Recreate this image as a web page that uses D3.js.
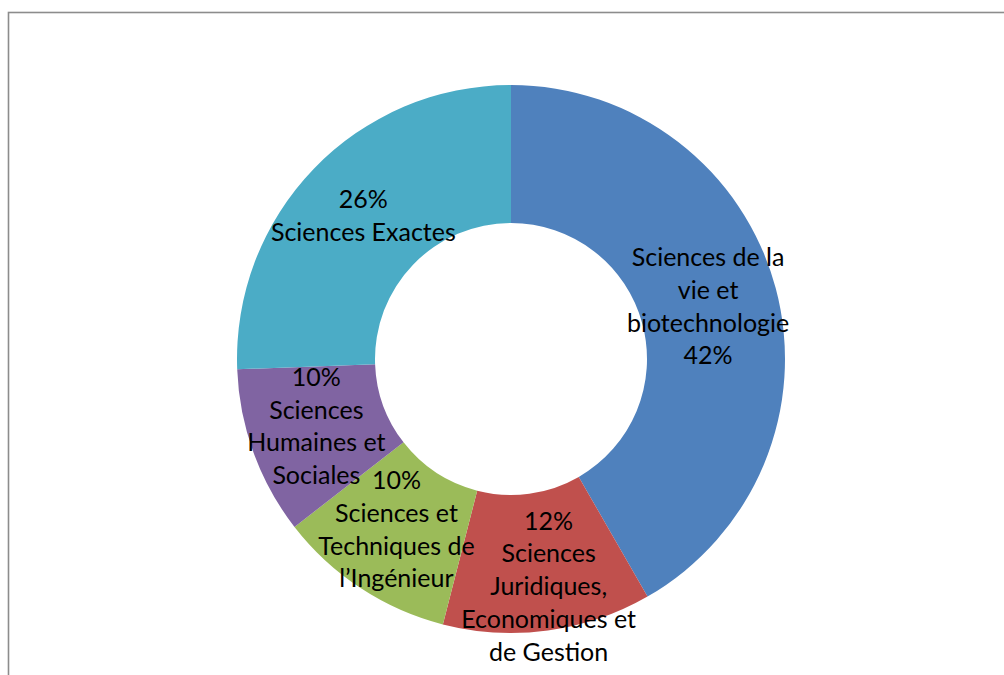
<!DOCTYPE html>
<html><head><meta charset="utf-8">
<script src="https://cdn.jsdelivr.net/npm/d3@7"></script>
<style>html,body{margin:0;padding:0;background:#fff;}svg{display:block;}</style>
</head><body>
<svg id="chart" width="1004" height="675"></svg>
<script>
const categories = [
  ["Sciences de la", "vie et", "biotechnologie"],
  ["Sciences", "Juridiques,", "Economiques et", "de Gestion"],
  ["Sciences et", "Techniques de", "l\u2019Ingénieur"],
  ["Sciences", "Humaines et", "Sociales"],
  ["Sciences Exactes"]
];
const values = [41.7, 12.3, 10.5, 9.9, 25.6];
const percentLabels = ["42%", "12%", "10%", "10%", "26%"];
const percentFirst = [false, true, true, true, true];
const colors = ["#4F81BD", "#C0504D", "#9BBB59", "#8064A2", "#4BACC6"];

const svg = d3.select("#chart");
svg.append("rect").attr("x", 8.5).attr("y", 12.5).attr("width", 1100).attr("height", 800)
  .attr("fill", "none").attr("stroke", "#8c8c8c").attr("stroke-width", 1.6);

const cx = 511, cy = 359, rOuter = 274, rInner = 136;
const g = svg.append("g").attr("transform", `translate(${cx},${cy})`);
const pie = d3.pie().sort(null).value(d => d)(values);
const arc = d3.arc().innerRadius(rInner).outerRadius(rOuter);
g.selectAll("path").data(pie).join("path").attr("d", arc).attr("fill", (d, i) => colors[i]);

const nudge = [[-1, 1], [10, 25], [-2, 0], [-2, -2], [0, 0]];
const lineH = 32.7;
pie.forEach((d, i) => {
  const c = arc.centroid(d);
  const lines = percentFirst[i] ? [percentLabels[i], ...categories[i]] : [...categories[i], percentLabels[i]];
  const x = c[0] + nudge[i][0], y = c[1] + nudge[i][1];
  const t = g.append("text").attr("text-anchor", "middle")
    .attr("font-family", "Lato, 'Noto Sans', sans-serif").attr("font-size", 25).attr("fill", "#000");
  lines.forEach((l, k) => {
    t.append("tspan").attr("x", x)
      .attr("y", y + (k - (lines.length - 1) / 2) * lineH + 8).text(l);
  });
});
</script>
</body></html>
